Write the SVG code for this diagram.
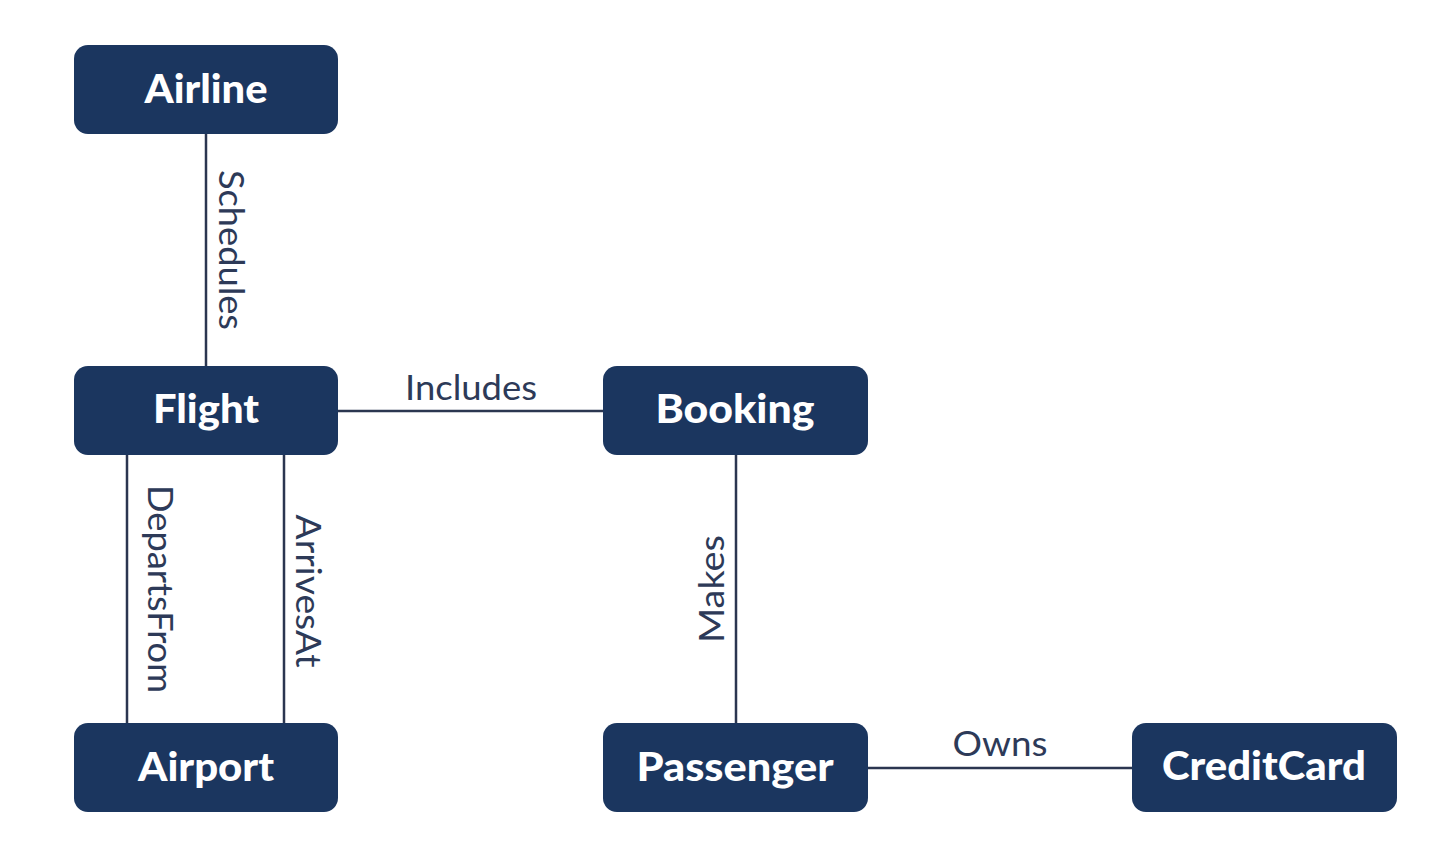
<svg xmlns="http://www.w3.org/2000/svg" width="1440" height="855" viewBox="0 0 1440 855">
<style>
.node rect{fill:#1b365f;}
.node text{fill:#ffffff;font-family:Lato,"Open Sans","Liberation Sans",sans-serif;font-weight:900;font-size:40px;text-anchor:middle;dominant-baseline:central;}
.edge line{stroke:#2b3650;stroke-width:2.5;}
.lbl{fill:#2d3a58;font-family:Lato,"Open Sans","Liberation Sans",sans-serif;font-weight:400;font-size:35px;text-anchor:middle;}
</style>
<rect width="1440" height="855" fill="#ffffff"/>
<g id="connectors" class="edge">
<line x1="206" y1="134" x2="206" y2="366"/>
<line x1="338" y1="411" x2="603" y2="411"/>
<line x1="127" y1="455" x2="127" y2="723"/>
<line x1="284" y1="455" x2="284" y2="723"/>
<line x1="736" y1="455" x2="736" y2="723"/>
<line x1="868" y1="768" x2="1132" y2="768"/>
<text class="lbl" transform="translate(219,250) rotate(90)" textLength="160" lengthAdjust="spacingAndGlyphs">Schedules</text>
<text class="lbl" x="471" y="400" textLength="132" lengthAdjust="spacingAndGlyphs">Includes</text>
<text class="lbl" transform="translate(148,589) rotate(90)" textLength="208" lengthAdjust="spacingAndGlyphs">DepartsFrom</text>
<text class="lbl" transform="translate(296,591) rotate(90)" textLength="153" lengthAdjust="spacingAndGlyphs">ArrivesAt</text>
<text class="lbl" transform="translate(724,589) rotate(-90)" textLength="108" lengthAdjust="spacingAndGlyphs">Makes</text>
<text class="lbl" x="1000" y="756" textLength="95" lengthAdjust="spacingAndGlyphs">Owns</text>
</g>
<g id="airline" class="node"><rect x="74" y="45" width="264" height="89" rx="14"/><text x="206" y="88" textLength="123" lengthAdjust="spacingAndGlyphs">Airline</text></g>
<g id="flight" class="node"><rect x="74" y="366" width="264" height="89" rx="14"/><text x="206" y="408" textLength="106" lengthAdjust="spacingAndGlyphs">Flight</text></g>
<g id="booking" class="node"><rect x="603" y="366" width="265" height="89" rx="14"/><text x="735" y="408" textLength="159" lengthAdjust="spacingAndGlyphs">Booking</text></g>
<g id="airport" class="node"><rect x="74" y="723" width="264" height="89" rx="14"/><text x="206" y="766" textLength="136" lengthAdjust="spacingAndGlyphs">Airport</text></g>
<g id="passenger" class="node"><rect x="603" y="723" width="265" height="89" rx="14"/><text x="735" y="766" textLength="197" lengthAdjust="spacingAndGlyphs">Passenger</text></g>
<g id="creditcard" class="node"><rect x="1132" y="723" width="265" height="89" rx="14"/><text x="1264" y="765" textLength="204" lengthAdjust="spacingAndGlyphs">CreditCard</text></g>
</svg>
